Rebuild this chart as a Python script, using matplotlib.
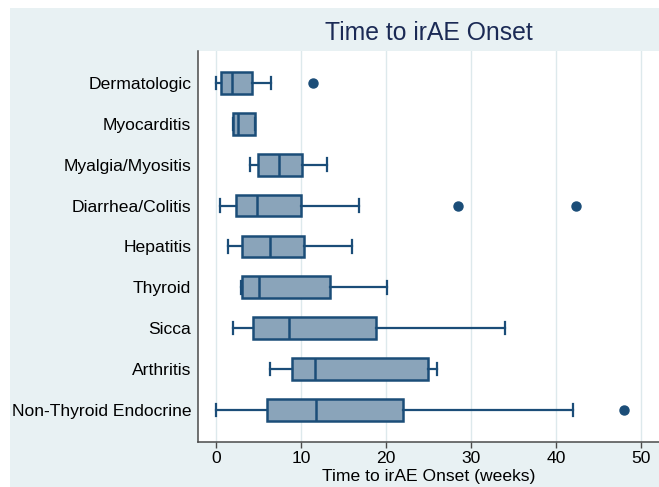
import matplotlib
matplotlib.use("Agg")
import matplotlib.pyplot as plt
from matplotlib.patches import Rectangle

categories = ["Dermatologic", "Myocarditis", "Myalgia/Myositis", "Diarrhea/Colitis",
              "Hepatitis", "Thyroid", "Sicca", "Arthritis", "Non-Thyroid Endocrine"]
whis_low = [0.0, 1.9, 4.0, 0.4, 1.4, 2.9, 2.0, 6.35, 0.0]
q1 = [0.6, 1.9, 4.9, 2.3, 3.0, 3.0, 4.35, 8.9, 6.0]
median = [1.85, 2.5, 7.4, 4.75, 6.3, 5.05, 8.55, 11.6, 11.75]
q3 = [4.15, 4.6, 10.05, 9.95, 10.35, 13.4, 18.8, 24.95, 22.0]
whis_high = [6.4, 4.6, 13.0, 16.75, 15.95, 20.1, 34.0, 26.0, 41.95]
outliers = [[11.4], [], [], [28.4, 42.35], [], [], [], [], [48.0]]
xticks = [0, 10, 20, 30, 40, 50]

line_c = "#1B4D78"
fill_c = "#8AA4BA"
bg_c = "#E8F1F3"

fig = plt.figure(figsize=(6.59, 4.87), dpi=100)
fig.patch.set_facecolor("white")
fig.patches.append(Rectangle((10/659, 0), 1 - 10/659, 1 - 8/487, transform=fig.transFigure,
                             facecolor=bg_c, edgecolor="none", zorder=-10))

ax = fig.add_axes([198.3/659, 1 - 441.7/487, 1 - 198.3/659, (441.7 - 51)/487])
ax.set_facecolor("white")
ax.set_zorder(2)

stats = []
for i, name in enumerate(categories):
    stats.append(dict(label=name, whislo=whis_low[i], q1=q1[i], med=median[i],
                      q3=q3[i], whishi=whis_high[i], fliers=outliers[i]))

positions = list(range(1, len(categories) + 1))
ax.bxp(stats, positions=positions, vert=False, widths=0.53, capwidths=0.31,
       patch_artist=True, showfliers=True,
       boxprops=dict(facecolor=fill_c, edgecolor=line_c, linewidth=1.8),
       medianprops=dict(color=line_c, linewidth=1.8),
       whiskerprops=dict(color=line_c, linewidth=1.6),
       capprops=dict(color=line_c, linewidth=1.6),
       flierprops=dict(marker="o", markerfacecolor=line_c, markeredgecolor=line_c,
                       markersize=6.5))

ax.set_xlim(-2.13, 52.1)
ax.set_ylim(9.78, 0.217)
ax.set_xticks(xticks)
ax.set_xticklabels([str(t) for t in xticks])
ax.set_yticks(positions)
ax.set_yticklabels(categories)

ax.xaxis.grid(True, color="#DDE9EC", linewidth=1.0)
ax.set_axisbelow(True)

for s in ["top", "right"]:
    ax.spines[s].set_visible(False)
for s in ["left", "bottom"]:
    ax.spines[s].set_color("#4A4A4A")
    ax.spines[s].set_linewidth(1.1)

ax.tick_params(axis="y", length=0, pad=5, labelsize=12.6, labelcolor="black")
ax.tick_params(axis="x", length=4.5, width=1.0, color="#4A4A4A", pad=2.5,
               labelsize=12.6, labelcolor="black")
for lab in ax.get_xticklabels() + ax.get_yticklabels():
    lab.set_fontfamily("Liberation Sans")

ax.set_xlabel("Time to irAE Onset (weeks)", fontsize=12.6, family="Liberation Sans",
              labelpad=2)
fig.text((198.3 + 659) / 2 / 659, 1 - 33/487, "Time to irAE Onset", ha="center",
         va="center", fontsize=17.8, color="#1B2A55", family="Liberation Sans")

fig.savefig("out.png", dpi=100)
